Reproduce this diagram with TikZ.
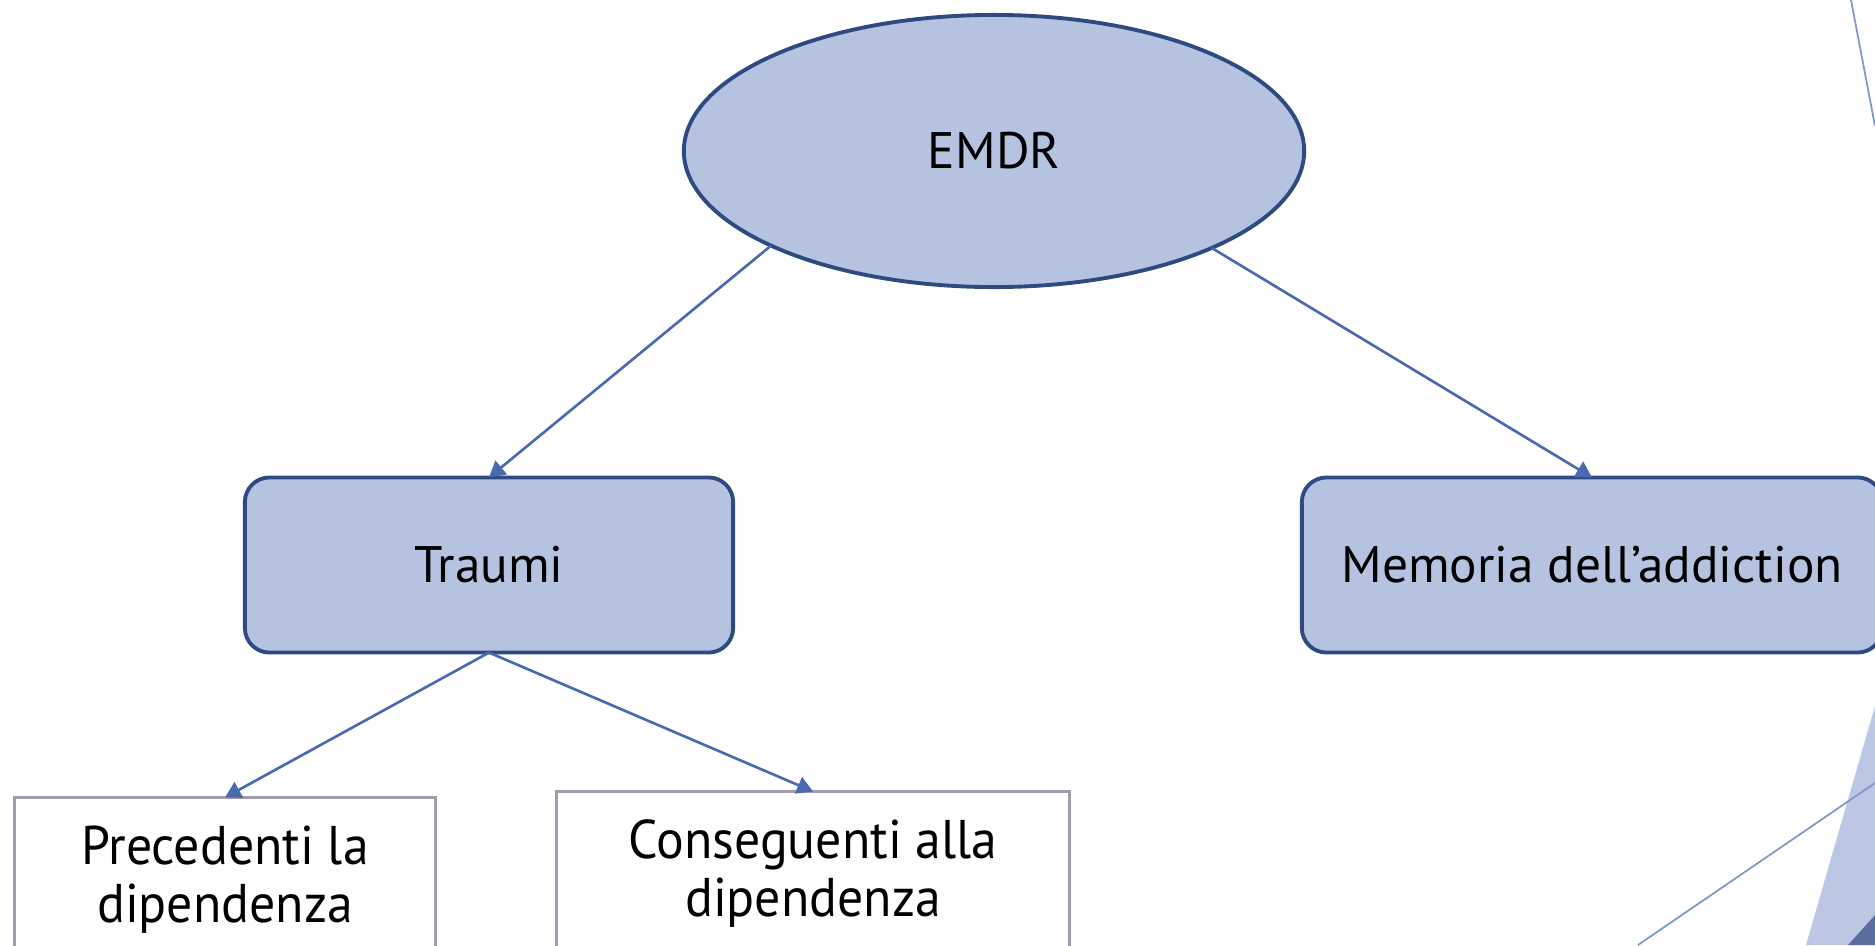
\documentclass[tikz,border=0pt]{standalone}
\usepackage{fontspec}
\setmainfont{PT Sans}
\usetikzlibrary{shapes.geometric,arrows.meta}
\definecolor{boxfill}{HTML}{B5C2E0}
\definecolor{boxline}{HTML}{2F4A80}
\definecolor{arrline}{HTML}{4A69B0}
\definecolor{greyline}{HTML}{A39AAE}
\definecolor{decoline}{HTML}{7F97CC}
\definecolor{decodark}{HTML}{5A6E9E}

\begin{document}
\begin{tikzpicture}[x=0.01cm,y=-0.01cm,inner sep=2pt,outer sep=0pt,
	font=\fontsize{14.6}{17}\selectfont,
	topbox/.style={draw=boxline,fill=boxfill,line width=1.1pt,rounded corners=7pt,minimum height=1.75cm},
	leafbox/.style={draw=greyline,fill=white,line width=1pt,minimum height=1.65cm,align=center,
		font=\fontsize{15.5}{16.5}\selectfont\addfontfeatures{FakeStretch=0.95}}]
	\clip (0,0) rectangle (1875,945);
	% slide decoration on the right edge
	\fill[boxfill!90!white] (1875,706) -- (1806,945) -- (1875,945) -- cycle;
	\fill[decodark] (1848,945) -- (1875,915) -- (1875,945) -- cycle;
	\draw[decoline,line width=0.5pt] (1851,0) -- (1875,126);
	\draw[decoline,line width=0.5pt] (1638,945) -- (1875,783);
	% nodes
	\node[ellipse,draw=boxline,fill=boxfill,line width=1.1pt,minimum width=6.2cm,minimum height=2.72cm] (emdr) at (994,151) {EMDR} ;
	\node[topbox,minimum width=4.88cm] (traumi) at (489,565) {Traumi} ;
	\node[topbox,minimum width=5.8cm] (memoria) at (1592,565) {Memoria dell’addiction} ;
	\node[leafbox,minimum width=4.21cm] (prec) at (225,880) {Precedenti la\\dipendenza} ;
	\node[leafbox,minimum width=5.13cm] (cons) at (813,874) {Conseguenti alla\\dipendenza} ;
	\begin{scope}[arrline,line width=0.75pt,-{Triangle[length=4.5pt,width=5pt]}]
	\draw (emdr.203.8) -- (traumi.north) ;
	\draw (emdr.336.2) -- (memoria.north) ;
	\draw (traumi.south) -- (prec.north) ;
	\draw (traumi.south) -- (cons.north) ;
	\end{scope}
\end{tikzpicture}
\end{document}
